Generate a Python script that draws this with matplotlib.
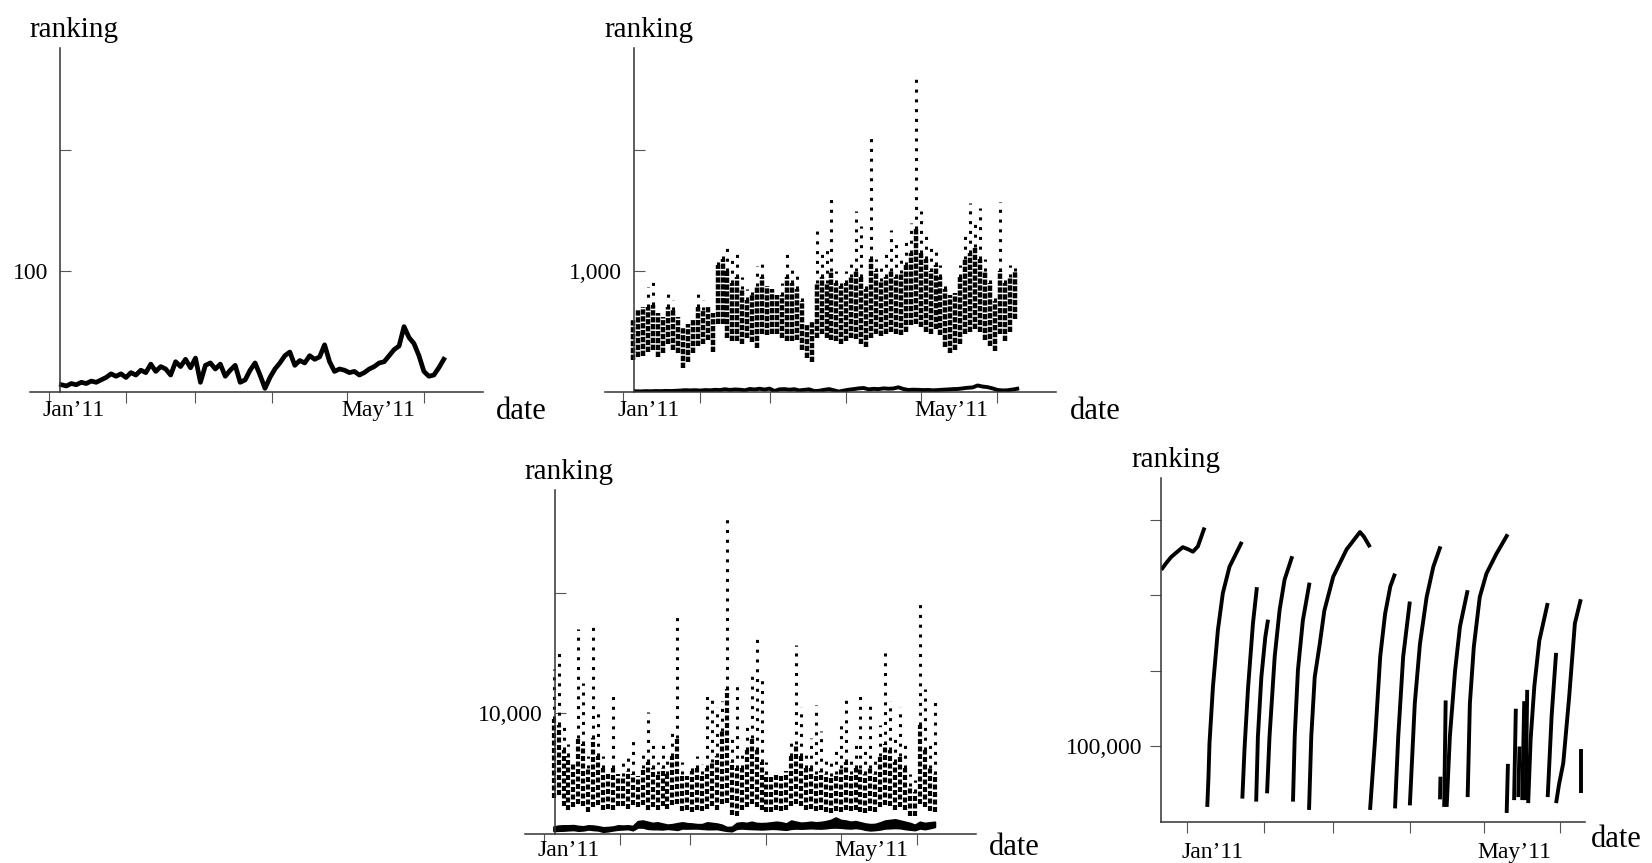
import matplotlib.pyplot as plt
from matplotlib.transforms import offset_copy, blended_transform_factory
import numpy as np

plt.rcParams['font.family'] = ['Liberation Serif', 'DejaVu Serif']

W, H = 1652, 863

# x positions are days counted from 1 Jan 2011
month_ticks = [0, 31, 59, 90, 120, 151]
month_names = ["Jan’11", "", "", "", "May’11", ""]

# panel 1: top-100 item, one reading every two days
p1_days = np.arange(5, 160, 2)
p1_rank = [6, 5, 7, 6, 8, 7, 9, 8, 10, 12,
           15, 13, 15, 12, 16, 14, 18, 16, 23, 17,
           21, 19, 14, 25, 21, 27, 20, 28, 8, 22,
           24, 19, 23, 13, 18, 22, 8, 10, 18, 24,
           14, 3, 12, 19, 24, 30, 33, 22, 26, 24,
           30, 27, 29, 39, 25, 17, 19, 18, 16, 17,
           14, 16, 19, 21, 24, 25, 30, 35, 38, 54,
           45, 40, 30, 17, 13, 14, 20, 27]

# panels 2 and 3: spread of the hourly ranks in two-day bins
bin_days = np.arange(4, 160, 2)
p2_low = [264, 290, 300, 330, 350, 290, 320, 400, 350, 320,
          200, 250, 320, 380, 400, 430, 330, 560, 560, 450,
          420, 420, 400, 450, 410, 360, 480, 470, 480, 480,
          450, 420, 420, 430, 350, 280, 250, 450, 480, 450,
          430, 420, 400, 420, 450, 440, 400, 370, 450, 480,
          460, 480, 500, 480, 470, 500, 550, 560, 540, 500,
          480, 520, 470, 370, 320, 350, 400, 480, 500, 520,
          500, 430, 380, 340, 480, 420, 500, 600]
p2_high = [600, 680, 700, 700, 720, 650, 620, 700, 680, 620,
           540, 560, 600, 700, 680, 700, 650, 1050, 1100, 1000,
           900, 950, 850, 760, 800, 880, 950, 880, 850, 800,
           800, 950, 900, 850, 750, 560, 580, 900, 950, 900,
           1000, 900, 880, 900, 950, 1000, 950, 850, 1100, 1000,
           920, 950, 1000, 950, 980, 1050, 1150, 1350, 1150, 1100,
           1000, 1050, 950, 850, 800, 820, 950, 1100, 1150, 1200,
           1100, 1000, 900, 750, 1000, 900, 950, 1000]
p2_peak = [600, 680, 700, 870, 910, 650, 620, 830, 760, 620,
           540, 560, 600, 843, 760, 700, 650, 1100, 1120, 1190,
           1100, 1160, 950, 850, 840, 1040, 1080, 880, 850, 800,
           900, 1150, 1050, 1000, 800, 560, 580, 1380, 1150, 1200,
           1640, 1000, 950, 1000, 1100, 1500, 1370, 900, 2120, 1100,
           1050, 1150, 1340, 1250, 1100, 1250, 1400, 2620, 1500, 1300,
           1200, 1170, 1050, 900, 800, 820, 1050, 1300, 1560, 1400,
           1520, 1100, 950, 800, 1570, 950, 1050, 1070]

p3_low = [3000, 3200, 2300, 2000, 2200, 2500, 2300, 1800, 2200, 2400,
          2000, 2100, 2000, 2300, 2300, 2100, 2400, 2200, 2400, 2000,
          2200, 2000, 2300, 2100, 2400, 2500, 1900, 2000, 1800, 2000,
          1900, 2100, 2300, 2000, 2500, 2600, 1600, 1500, 2000, 2200,
          2500, 2200, 2000, 1800, 1800, 2000, 1900, 2000, 2300, 2500,
          2300, 2000, 2100, 1900, 2000, 1800, 1700, 1900, 1800, 2000,
          1900, 2000, 1800, 1700, 1900, 1800, 2200, 2400, 2300, 2000,
          2200, 2000, 1500, 1500, 2500, 2200, 1900, 1800]
p3_high = [9500, 9000, 7000, 6500, 6000, 8000, 7500, 5500, 8000, 6500,
           5500, 5000, 5500, 5000, 4800, 5200, 5000, 4800, 5500, 6000,
           5500, 5000, 5500, 5000, 6500, 8000, 5000, 4800, 5200, 5500,
           5000, 5500, 6000, 6500, 8500, 12000, 6000, 5500, 5500, 7000,
           8000, 7000, 6000, 5000, 4800, 5000, 4800, 5200, 6500, 7500,
           6500, 5500, 5500, 5000, 5200, 5000, 4800, 5000, 5500, 6000,
           5000, 5500, 5500, 5000, 5500, 5000, 6500, 7500, 7000, 6000,
           6500, 5500, 4000, 3500, 9000, 7000, 5500, 5000]
p3_peak = [13700, 15100, 9000, 7500, 6000, 17000, 12500, 6500, 17300, 10000,
           6500, 5000, 11800, 5000, 6000, 6800, 7900, 4800, 7000, 10100,
           7500, 6000, 7400, 6500, 8500, 18400, 6000, 4800, 5800, 6500,
           5800, 11500, 11500, 10500, 11000, 26200, 8000, 12600, 7000, 9000,
           13500, 16200, 13200, 6000, 4800, 5000, 4800, 5200, 8000, 15700,
           10500, 7000, 8000, 10700, 8500, 6500, 6000, 7000, 9000, 11500,
           6500, 7500, 11800, 7000, 11000, 6500, 9000, 15500, 11000, 8000,
           10500, 7500, 5000, 4500, 19400, 12000, 7500, 11100]

# panel 4: long-tail item, rank climbs between sales (piece = unbroken run)
p4_piece = [0] * 9 + [1] * 8 + [2] * 5 + [3] * 5 + [4] * 6 + [5] * 5 + [6] * 10 \
    + [7] * 6 + [8] * 4 + [9] * 6 + [10] * 2 + [11] * 3 + [12] * 5 + [13] * 7 \
    + [14] * 2 + [15] * 2 + [16] * 2 + [17] * 2 + [18] * 2 + [19] * 5 + [20] * 3 \
    + [21] * 6 + [22] * 2
p4_days = [-10.5, -8.5, -6.5, -4.0, -1.8, 0.5, 2.3, 4.3, 7.0,
           8.1, 8.6, 9.0, 10.4, 12.4, 14.4, 17.1, 22.1,
           22.3, 23.2, 24.6, 26.6, 28.2,
           27.9, 28.6, 30.0, 31.6, 32.7,
           32.3, 33.3, 35.4, 37.4, 39.4, 42.5,
           42.8, 43.5, 44.8, 46.8, 49.5,
           49.3, 50.2, 51.6, 53.6, 55.5, 59.1, 64.5, 69.9, 71.5, 74.0,
           74.0, 76.1, 78.1, 80.1, 82.2, 84.1,
           84.1, 85.4, 87.4, 90.1,
           90.1, 92.1, 94.2, 96.9, 99.6, 102.5,
           102.3, 102.5,
           104.0, 104.3, 104.6,
           105.0, 106.3, 108.4, 110.4, 113.5,
           113.5, 114.4, 116.0, 118.4, 121.1, 125.1, 129.7,
           129.3, 129.8,
           132.3, 133.0,
           134.0, 134.5,
           135.6, 136.4,
           137.0, 137.6,
           138.0, 139.0, 140.5, 142.5, 145.9,
           145.9, 147.5, 149.3,
           149.3, 150.5, 152.2, 154.6, 156.9, 159.3,
           159.3, 159.3]
p4_rank = [334000, 343000, 351000, 358000, 364000, 361000, 358000, 365000, 390000,
           20000, 60000, 104000, 179000, 254000, 303000, 338000, 371000,
           31000, 98000, 177000, 263000, 311000,
           27000, 113000, 192000, 245000, 268000,
           38000, 113000, 219000, 281000, 321000, 352000,
           27000, 113000, 201000, 267000, 317000,
           16000, 113000, 192000, 235000, 280000, 325000, 361000, 384000, 378000, 364000,
           16000, 113000, 219000, 276000, 312000, 329000,
           18000, 113000, 219000, 292000,
           22000, 157000, 236000, 298000, 338000, 365000,
           30000, 60000,
           20000, 90000, 161000,
           20000, 113000, 200000, 259000, 307000,
           33000, 157000, 232000, 298000, 329000, 355000, 381000,
           12000, 77000,
           29000, 150000,
           33000, 100000,
           29000, 160000,
           29000, 175000,
           25000, 110000, 180000, 240000, 290000,
           33000, 141000, 224000,
           25000, 50000, 78000, 166000, 263000, 295000,
           38000, 97000]

fig = plt.figure(figsize=(W / 100, H / 100), dpi=100)

AXIS = '#333333'
TICK = '#555555'
DENSE = (0, (1.2, 0.35))
SPARSE = (0, (1, 2.2))


def panel(x0, ytop, x1, ybot, xlim, ylim, yticks, ylabels, yaxis_day=None,
          tickdir='in', ypad=8.6, xlab_dy=8, date_dx=13, date_dy=27):
    ax = fig.add_axes([x0 / W, 1 - ybot / H, (x1 - x0) / W, (ybot - ytop) / H])
    ax.set_xlim(*xlim)
    ax.set_ylim(*ylim)
    ax.spines['top'].set_visible(False)
    ax.spines['right'].set_visible(False)
    for s in ['left', 'bottom']:
        ax.spines[s].set_color(AXIS)
        ax.spines[s].set_linewidth(1.1)
    if yaxis_day is not None:
        ax.spines['left'].set_position(('data', yaxis_day))
    ax.set_xticks(month_ticks)
    ax.tick_params(axis='x', direction='out', length=8, width=0.8,
                   color=TICK, labelbottom=False)
    ax.set_yticks(yticks)
    ax.set_yticklabels(ylabels)
    ax.tick_params(axis='y', direction=tickdir, length=8, width=0.8,
                   color=TICK, labelsize=17, pad=ypad)
    for d, name in zip(month_ticks, month_names):
        if name:
            ax.text(d, 0, name, fontsize=17, ha='left', va='top',
                    transform=offset_copy(ax.get_xaxis_transform(), fig=fig,
                                          x=-6, y=-xlab_dy, units='dots'))
    ax.text(1, 0, 'date', fontsize=22, ha='left', va='baseline',
            transform=offset_copy(ax.transAxes, fig=fig, x=date_dx, y=-date_dy,
                                  units='dots'))
    if yaxis_day is None:
        base = ax.transAxes
        xr = 0
    else:
        base = blended_transform_factory(ax.transData, ax.transAxes)
        xr = yaxis_day
    ax.text(xr, 1, 'ranking', fontsize=21, ha='left', va='baseline',
            transform=offset_copy(base, fig=fig, x=-30, y=11, units='dots'))
    return ax


# panel 1
ax1 = panel(30, 48, 483, 392, (-7.65, 174.8), (0, 284), [100, 200], ['100', ''],
            yaxis_day=4.4)
ax1.plot(p1_days, p1_rank, color='black', lw=3.4)

# panel 2
ax2 = panel(604.6, 48, 1056.4, 392, (-7.6, 174.8), (0, 2843), [1000, 2000],
            ['1,000', ''], yaxis_day=4.4)
ax2.vlines(bin_days, p2_low, p2_high, colors='black', lw=3.2, linestyles=[DENSE])
ax2.vlines(bin_days, p2_high, p2_peak, colors='black', lw=2.2, linestyles=[SPARSE])
ax2.plot(p1_days, p1_rank, color='black', lw=2.8)

# panel 3
ax3 = panel(524.8, 490, 976.3, 834, (-7.65, 174.8), (0, 28524), [10000, 20000],
            ['10,000', ''], yaxis_day=4.4, xlab_dy=6, date_dy=21)
ax3.vlines(bin_days, p3_low, p3_high, colors='black', lw=3.0,
           linestyles=[(0, (1.2, 0.6))])
ax3.vlines(bin_days, p3_high, p3_peak, colors='black', lw=2.2, linestyles=[SPARSE])
ax3.fill_between(bin_days, p2_low, p2_high, color='black', lw=1.5)

# panel 4
ax4 = panel(1161.3, 478, 1585, 822, (-10.5, 161), (0, 455600),
            [100000, 200000, 300000, 400000], ['100,000', '', '', ''],
            tickdir='out', ypad=5.8, xlab_dy=20, date_dx=6, date_dy=25)
p4_days = np.array(p4_days)
p4_rank = np.array(p4_rank)
p4_piece = np.array(p4_piece)
for k in np.unique(p4_piece):
    sel = p4_piece == k
    ax4.plot(p4_days[sel], p4_rank[sel], color='black', lw=2.8,
             solid_capstyle='butt')

fig.savefig('out.png', dpi=100)
